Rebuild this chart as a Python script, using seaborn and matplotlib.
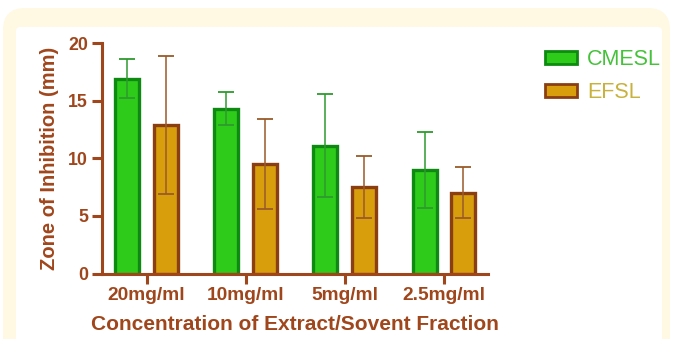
import matplotlib
matplotlib.use("Agg")
import matplotlib.pyplot as plt
from matplotlib.patches import FancyBboxPatch, Patch
import seaborn as sns
import pandas as pd
import numpy as np

categories = ["20mg/ml", "10mg/ml", "5mg/ml", "2.5mg/ml"]
series = ["CMESL", "EFSL"]
cmesl_mean = [16.9, 14.3, 11.1, 9.0]
cmesl_err = [1.7, 1.45, 4.5, 3.3]
efsl_mean = [12.9, 9.5, 7.5, 7.0]
efsl_err = [6.0, 3.9, 2.7, 2.2]
yticks = [0, 5, 10, 15, 20]

df = pd.DataFrame({
    "conc": categories * 2,
    "group": [series[0]] * 4 + [series[1]] * 4,
    "value": cmesl_mean + efsl_mean,
})

sns.set_theme(style="white")
plt.rcParams["font.family"] = ["Liberation Sans", "DejaVu Sans"]
plt.rcParams["font.weight"] = "bold"

brown = "#A0461C"
fills = {"CMESL": "#2FCB1A", "EFSL": "#D89E0C"}
edges = {"CMESL": "#0E8A12", "EFSL": "#8B3E12"}
errc = {"CMESL": "#2E9A2E", "EFSL": "#9A5A2A"}

fig = plt.figure(figsize=(6.75, 3.39), dpi=100)
fig.patch.set_facecolor("white")
fig.patches.append(FancyBboxPatch((3, -20), 667, 351, boxstyle="round,pad=0,rounding_size=22",
                                  transform=None, facecolor="#FFF8E3", edgecolor="none", zorder=-10))
fig.patches.append(FancyBboxPatch((16, -20), 646, 332, boxstyle="round,pad=0,rounding_size=4",
                                  transform=None, facecolor="white", edgecolor="none", zorder=-9))

ax = fig.add_axes([102 / 675, 1 - 273.5 / 339, (488 - 102) / 675, (273.5 - 43) / 339])
ax.set_facecolor("none")

sns.barplot(data=df, x="conc", y="value", hue="group", order=categories, hue_order=series,
            palette=fills, saturation=1, width=0.78, gap=0.38, errorbar=None, ax=ax,
            legend=False, zorder=2)

errs = {"CMESL": cmesl_err, "EFSL": efsl_err}
for cont, name in zip(ax.containers, series):
    xs, hs = [], []
    for bar in cont:
        bar.set_edgecolor(edges[name])
        bar.set_linewidth(2.4)
        xs.append(bar.get_x() + bar.get_width() / 2)
        hs.append(bar.get_height())
    ax.errorbar(xs, hs, yerr=errs[name], fmt="none", ecolor=errc[name], elinewidth=1.1,
                capsize=6, capthick=1.3, zorder=3)

ax.set_xlim(-0.45, 3.445)
ax.set_ylim(0, 20)
ax.set_yticks(yticks)
sns.despine(ax=ax)
for s in ["left", "bottom"]:
    ax.spines[s].set_color(brown)
    ax.spines[s].set_linewidth(2.2)
ax.tick_params(axis="both", colors=brown, direction="out", length=7, width=2.2,
               pad=3, bottom=True, left=True)
ax.tick_params(axis="x", labelsize=13.8)
ax.tick_params(axis="y", labelsize=12.8)
for lab in ax.get_xticklabels() + ax.get_yticklabels():
    lab.set_fontweight("bold")
ax.set_xlabel("Concentration of Extract/Sovent Fraction", color=brown, fontsize=15,
              fontweight="bold", labelpad=8)
ax.set_ylabel("Zone of Inhibition (mm)", color=brown, fontsize=14.5, fontweight="bold", labelpad=7)

handles = [Patch(facecolor=fills[n], edgecolor=edges[n], linewidth=2) for n in series]
leg = fig.legend(handles, series, loc="upper left", bbox_to_anchor=(526 / 675, 1 - 30 / 339),
                 frameon=False, prop={"size": 15.5, "weight": "normal"},
                 handlelength=1.45, handleheight=0.55, labelspacing=0.55, handletextpad=0.5)
for t, c in zip(leg.get_texts(), ["#45C23A", "#C9B23C"]):
    t.set_color(c)

fig.savefig("out.png", dpi=100, facecolor=fig.get_facecolor())
